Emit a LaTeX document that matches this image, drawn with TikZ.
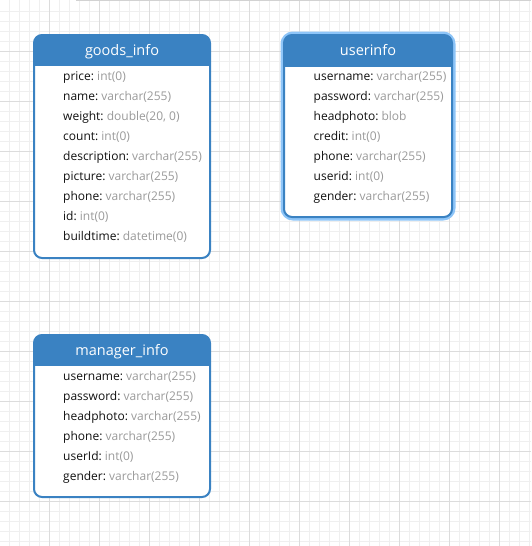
\documentclass[tikz,border=0pt]{standalone}
\usepackage{fontspec}
\setmainfont{Open Sans}
\definecolor{tblblue}{HTML}{3A82C2}
\definecolor{halo}{HTML}{8EC5F8}
\definecolor{typegray}{HTML}{9A9A9A}
\definecolor{namecol}{HTML}{111111}
\definecolor{minorgrid}{HTML}{EFEFEF}
\definecolor{majorgrid}{HTML}{DCDCDC}
\definecolor{topline}{HTML}{D2D2D2}
\newcommand\ty[1]{{\color{typegray}#1}}
\tikzset{
  minorline/.style={draw=minorgrid, line width=1},
  majorline/.style={draw=majorgrid, line width=1},
  tblbody/.style={fill=white},
  tblborder/.style={draw=tblblue, line width=2, rounded corners=8},
  tblhalo/.style={draw=halo, line width=7, rounded corners=9},
  hdrtext/.style={text=white, anchor=base, inner sep=0, font=\fontsize{14.5}{17}\selectfont},
  rowtext/.style={anchor=base west, inner sep=0, text=namecol, font=\fontsize{12}{14}\selectfont},
}
\begin{document}
\begin{tikzpicture}[x=1pt,y=-1pt]
\useasboundingbox (0,0) rectangle (531,546);
\fill[white] (0,0) rectangle (531,546);
% grid
\foreach \i in {0,...,52} { \draw[minorline] ({9.3+10*\i},0) -- ({9.3+10*\i},546); }
\foreach \j in {1,...,54} { \draw[minorline] (0,{1+10*\j}) -- (531,{1+10*\j}); }
\foreach \i in {0,...,9} { \draw[majorline] ({49.3+50*\i},0) -- ({49.3+50*\i},546); }
\foreach \j in {1,...,10} { \draw[majorline] (0,{1+50*\j}) -- (531,{1+50*\j}); }
\draw[draw=topline, line width=1.2] (76,0.8) -- (531,0.8);

% ---------- goods_info ----------
\fill[tblbody, rounded corners=8] (34,35) rectangle (210,258);
\begin{scope}
  \clip[rounded corners=8] (34,35) rectangle (210,258);
  \fill[tblblue] (34,35) rectangle (210,66);
\end{scope}
\draw[tblborder] (34,35) rectangle (210,258);
\node[hdrtext] (gt) at (122,55.5) {goods\_info};
\node[rowtext] (g1) at (63,80.5) {price:\ \ty{int(0)}};
\node[rowtext] (g2) at (63,100.5) {name:\ \ty{varchar(255)}};
\node[rowtext] (g3) at (63,120.5) {weight:\ \ty{double(20, 0)}};
\node[rowtext] (g4) at (63,140.5) {count:\ \ty{int(0)}};
\node[rowtext] (g5) at (63,160.5) {description:\ \ty{varchar(255)}};
\node[rowtext] (g6) at (63,180.5) {picture:\ \ty{varchar(255)}};
\node[rowtext] (g7) at (63,200.5) {phone:\ \ty{varchar(255)}};
\node[rowtext] (g8) at (63,220.5) {id:\ \ty{int(0)}};
\node[rowtext] (g9) at (63,240.5) {buildtime:\ \ty{datetime(0)}};

% ---------- userinfo ----------
\draw[tblhalo] (284,35) rectangle (452,217);
\fill[tblbody, rounded corners=8] (284,35) rectangle (452,217);
\begin{scope}
  \clip[rounded corners=8] (284,35) rectangle (452,217);
  \fill[tblblue] (284,35) rectangle (452,67);
\end{scope}
\draw[tblborder] (284,35) rectangle (452,217);
\node[hdrtext] (ut) at (368,55.5) {userinfo};
\node[rowtext] (u1) at (313.5,80.5) {username:\ \ty{varchar(255)}};
\node[rowtext] (u2) at (313.5,100.5) {password:\ \ty{varchar(255)}};
\node[rowtext] (u3) at (313.5,120.5) {headphoto:\ \ty{blob}};
\node[rowtext] (u4) at (313.5,140.5) {credit:\ \ty{int(0)}};
\node[rowtext] (u5) at (313.5,160.5) {phone:\ \ty{varchar(255)}};
\node[rowtext] (u6) at (313.5,180.5) {userid:\ \ty{int(0)}};
\node[rowtext] (u7) at (313.5,200.5) {gender:\ \ty{varchar(255)}};

% ---------- manager_info ----------
\fill[tblbody, rounded corners=8] (34,335) rectangle (210,497);
\begin{scope}
  \clip[rounded corners=8] (34,335) rectangle (210,497);
  \fill[tblblue] (34,335) rectangle (210,366);
\end{scope}
\draw[tblborder] (34,335) rectangle (210,497);
\node[hdrtext] (mt) at (122,355.5) {manager\_info};
\node[rowtext] (m1) at (63,380.5) {username:\ \ty{varchar(255)}};
\node[rowtext] (m2) at (63,400.5) {password:\ \ty{varchar(255)}};
\node[rowtext] (m3) at (63,420.5) {headphoto:\ \ty{varchar(255)}};
\node[rowtext] (m4) at (63,440.5) {phone:\ \ty{varchar(255)}};
\node[rowtext] (m5) at (63,460.5) {userId:\ \ty{int(0)}};
\node[rowtext] (m6) at (63,480.5) {gender:\ \ty{varchar(255)}};
\end{tikzpicture}
\end{document}
